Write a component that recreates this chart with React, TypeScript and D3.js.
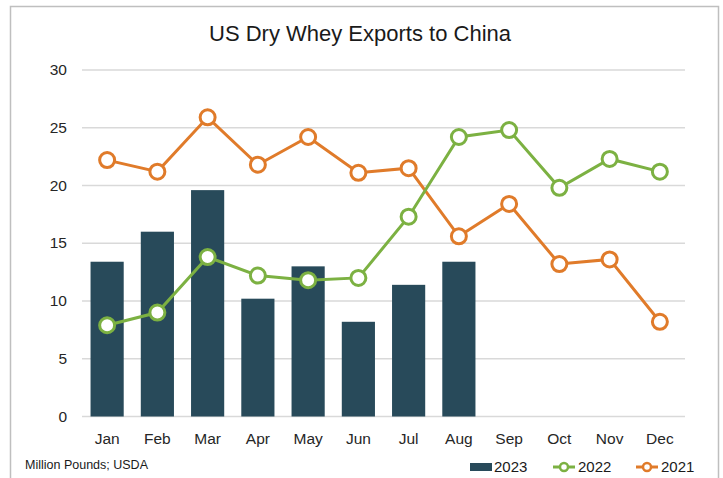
import React, { useEffect, useRef } from 'react';
import * as d3 from 'd3';

const months = ['Jan', 'Feb', 'Mar', 'Apr', 'May', 'Jun', 'Jul', 'Aug', 'Sep', 'Oct', 'Nov', 'Dec'];
const exports2023 = [13.4, 16.0, 19.6, 10.2, 13.0, 8.2, 11.4, 13.4];
const exports2022 = [7.9, 9.0, 13.8, 12.2, 11.8, 12.0, 17.3, 24.2, 24.8, 19.8, 22.3, 21.2];
const exports2021 = [22.2, 21.2, 25.9, 21.8, 24.2, 21.1, 21.5, 15.6, 18.4, 13.2, 13.6, 8.2];
const yTicks = [0, 5, 10, 15, 20, 25, 30];

const W = 723;
const H = 478;
const BAR = '#284a5a';
const GREEN = '#7cb142';
const ORANGE = '#e07b2a';
const FONT = '"Liberation Sans Narrow", "Liberation Sans", Arial, sans-serif';

const App = () => {
  const svgRef = useRef<SVGSVGElement>(null);

  useEffect(() => {
    const svg = d3.select(svgRef.current);
    svg.selectAll('*').remove();

    const margin = { top: 70, right: 38, bottom: 61.5, left: 82 };

    svg.append('rect')
      .attr('x', 10.5).attr('y', 6.5)
      .attr('width', 708).attr('height', 475)
      .attr('fill', 'white').attr('stroke', '#bfbfbf').attr('stroke-width', 1.5);

    const x = d3.scaleBand()
      .domain(months)
      .range([margin.left, W - margin.right])
      .paddingInner(0.34).paddingOuter(0.17);

    const y = d3.scaleLinear()
      .domain([0, 30])
      .range([H - margin.bottom, margin.top]);

    // gridlines
    svg.append('g')
      .selectAll('line')
      .data(yTicks)
      .join('line')
      .attr('x1', margin.left).attr('x2', W - margin.right)
      .attr('y1', d => y(d)).attr('y2', d => y(d))
      .attr('stroke', '#d9d9d9').attr('stroke-width', 1.5);

    // y labels
    svg.append('g')
      .selectAll('text')
      .data(yTicks)
      .join('text')
      .attr('x', 67).attr('y', d => y(d) + 5)
      .attr('text-anchor', 'end')
      .style('font-family', FONT).style('font-size', '15.5px').style('fill', '#262626')
      .text(d => d);

    // x labels
    svg.append('g')
      .selectAll('text')
      .data(months)
      .join('text')
      .attr('x', d => x(d)! + x.bandwidth() / 2).attr('y', 444)
      .attr('text-anchor', 'middle')
      .style('font-family', FONT).style('font-size', '15.5px').style('fill', '#262626')
      .text(d => d);

    // bars
    svg.append('g')
      .selectAll('rect')
      .data(exports2023)
      .join('rect')
      .attr('x', (d, i) => x(months[i])!)
      .attr('y', d => y(d))
      .attr('width', x.bandwidth())
      .attr('height', d => y(0) - y(d))
      .attr('fill', BAR);

    const cx = (i: number) => x(months[i])! + x.bandwidth() / 2;
    const line = d3.line<number>().x((d, i) => cx(i)).y(d => y(d));

    const drawSeries = (data: number[], color: string) => {
      svg.append('path')
        .datum(data)
        .attr('d', line)
        .attr('fill', 'none')
        .attr('stroke', color)
        .attr('stroke-width', 3);
      svg.append('g')
        .selectAll('circle')
        .data(data)
        .join('circle')
        .attr('cx', (d, i) => cx(i))
        .attr('cy', d => y(d))
        .attr('r', 7.5)
        .attr('fill', 'white')
        .attr('stroke', color)
        .attr('stroke-width', 3);
    };
    drawSeries(exports2021, ORANGE);
    drawSeries(exports2022, GREEN);

    // title
    svg.append('text')
      .attr('x', 360).attr('y', 41)
      .attr('text-anchor', 'middle')
      .style('font-family', FONT).style('font-size', '22px').style('fill', '#1a1a1a')
      .text('US Dry Whey Exports to China');

    // source note
    svg.append('text')
      .attr('x', 25).attr('y', 469)
      .style('font-family', FONT).style('font-size', '12.5px').style('fill', '#1a1a1a')
      .text('Million Pounds; USDA');

    // legend
    const lg = svg.append('g').style('font-family', FONT).style('font-size', '15px').style('fill', '#1a1a1a');
    lg.append('rect').attr('x', 470).attr('y', 463).attr('width', 22).attr('height', 8).attr('fill', BAR);
    lg.append('text').attr('x', 494).attr('y', 472).text('2023');
    const legendLine = (x0: number, color: string, label: string) => {
      lg.append('line').attr('x1', x0).attr('x2', x0 + 22).attr('y1', 467).attr('y2', 467)
        .attr('stroke', color).attr('stroke-width', 3);
      lg.append('circle').attr('cx', x0 + 11).attr('cy', 467).attr('r', 4)
        .attr('fill', 'white').attr('stroke', color).attr('stroke-width', 2.5);
      lg.append('text').attr('x', x0 + 25).attr('y', 472).text(label);
    };
    legendLine(553, GREEN, '2022');
    legendLine(636, ORANGE, '2021');
  }, []);

  return (
    <svg
      ref={svgRef}
      width={W}
      height={H}
      style={{ position: 'absolute', left: 0, top: 0, background: 'white' }}
    />
  );
};

export default App;
